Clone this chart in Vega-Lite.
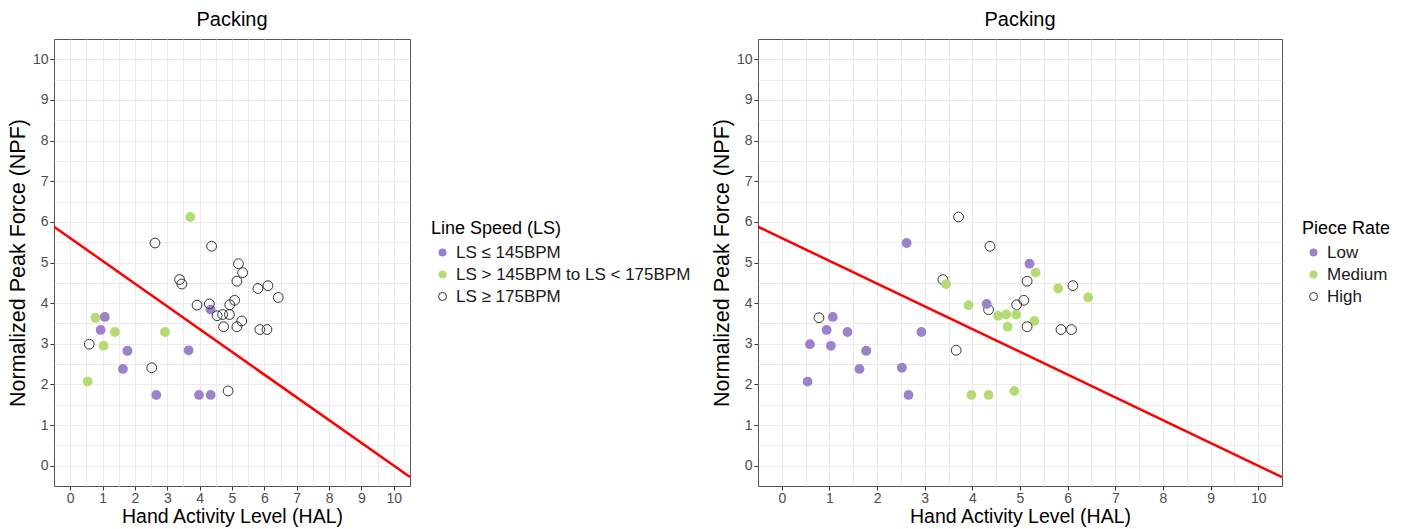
{
  "$schema": "https://vega.github.io/schema/vega-lite/v6.json",
  "padding": {"left": 6, "top": 9, "right": 5, "bottom": 2},
  "bounds": "flush",
  "spacing": 348,
  "config": {
    "font": "Liberation Sans",
    "view": {"stroke": "#555555", "strokeWidth": 1},
    "axis": {
      "domain": false,
      "tickColor": "#333333",
      "tickSize": 4,
      "labelColor": "#4D4D4D",
      "labelFontSize": 14,
      "titleColor": "#000000",
      "titleFontWeight": "normal",
      "gridColor": "#EBEBEB",
      "gridWidth": 1,
      "labelOverlap": false,
      "labelFlush": false
    },
    "axisX": {"labelPadding": 1, "titlePadding": 2, "titleFontSize": 19.5},
    "axisY": {"labelPadding": 2, "titlePadding": 3, "titleFontSize": 21.5},
    "title": {"fontSize": 20, "fontWeight": "normal", "color": "#000000", "offset": 9, "anchor": "middle"},
    "legend": {
      "titleFontSize": 18,
      "labelFontSize": 17,
      "titleFontWeight": "normal",
      "titleColor": "#000000",
      "labelColor": "#1A1A1A",
      "labelLimit": 0,
      "symbolSize": 64,
      "symbolStrokeWidth": 1,
      "rowPadding": 4,
      "titlePadding": 6,
      "labelOffset": 5,
      "symbolOffset": 3
    }
  },
  "datasets": {
    "pts": [
      {"HAL": 3.71, "NPF": 6.12, "LS": "LS > 145BPM to LS < 175BPM", "PR": "High"},
      {"HAL": 0.78, "NPF": 3.64, "LS": "LS > 145BPM to LS < 175BPM", "PR": "High"},
      {"HAL": 1.38, "NPF": 3.29, "LS": "LS > 145BPM to LS < 175BPM", "PR": "Low"},
      {"HAL": 2.93, "NPF": 3.29, "LS": "LS > 145BPM to LS < 175BPM", "PR": "Low"},
      {"HAL": 1.03, "NPF": 2.95, "LS": "LS > 145BPM to LS < 175BPM", "PR": "Low"},
      {"HAL": 1.77, "NPF": 2.82, "LS": "LS > 145BPM to LS < 175BPM", "PR": "Medium"},
      {"HAL": 0.54, "NPF": 2.07, "LS": "LS > 145BPM to LS < 175BPM", "PR": "Low"},
      {"HAL": 1.07, "NPF": 3.66, "LS": "LS ≤ 145BPM", "PR": "Low"},
      {"HAL": 0.94, "NPF": 3.34, "LS": "LS ≤ 145BPM", "PR": "Low"},
      {"HAL": 1.77, "NPF": 2.83, "LS": "LS ≤ 145BPM", "PR": "Low"},
      {"HAL": 1.63, "NPF": 2.38, "LS": "LS ≤ 145BPM", "PR": "Low"},
      {"HAL": 3.66, "NPF": 2.84, "LS": "LS ≤ 145BPM", "PR": "High"},
      {"HAL": 4.34, "NPF": 3.84, "LS": "LS ≤ 145BPM", "PR": "High"},
      {"HAL": 2.66, "NPF": 1.74, "LS": "LS ≤ 145BPM", "PR": "Low"},
      {"HAL": 3.98, "NPF": 1.74, "LS": "LS ≤ 145BPM", "PR": "Medium"},
      {"HAL": 4.34, "NPF": 1.74, "LS": "LS ≤ 145BPM", "PR": "Medium"},
      {"HAL": 2.62, "NPF": 5.48, "LS": "LS ≥ 175BPM", "PR": "Low"},
      {"HAL": 4.37, "NPF": 5.40, "LS": "LS ≥ 175BPM", "PR": "High"},
      {"HAL": 5.20, "NPF": 4.97, "LS": "LS ≥ 175BPM", "PR": "Low"},
      {"HAL": 5.33, "NPF": 4.75, "LS": "LS ≥ 175BPM", "PR": "Medium"},
      {"HAL": 5.15, "NPF": 4.54, "LS": "LS ≥ 175BPM", "PR": "High"},
      {"HAL": 3.38, "NPF": 4.58, "LS": "LS ≥ 175BPM", "PR": "High"},
      {"HAL": 3.45, "NPF": 4.47, "LS": "LS ≥ 175BPM", "PR": "Medium"},
      {"HAL": 5.80, "NPF": 4.36, "LS": "LS ≥ 175BPM", "PR": "Medium"},
      {"HAL": 6.11, "NPF": 4.43, "LS": "LS ≥ 175BPM", "PR": "High"},
      {"HAL": 6.43, "NPF": 4.14, "LS": "LS ≥ 175BPM", "PR": "Medium"},
      {"HAL": 3.92, "NPF": 3.95, "LS": "LS ≥ 175BPM", "PR": "Medium"},
      {"HAL": 4.30, "NPF": 3.98, "LS": "LS ≥ 175BPM", "PR": "Low"},
      {"HAL": 5.08, "NPF": 4.07, "LS": "LS ≥ 175BPM", "PR": "High"},
      {"HAL": 4.93, "NPF": 3.96, "LS": "LS ≥ 175BPM", "PR": "High"},
      {"HAL": 4.54, "NPF": 3.69, "LS": "LS ≥ 175BPM", "PR": "Medium"},
      {"HAL": 4.71, "NPF": 3.72, "LS": "LS ≥ 175BPM", "PR": "Medium"},
      {"HAL": 4.92, "NPF": 3.72, "LS": "LS ≥ 175BPM", "PR": "Medium"},
      {"HAL": 5.30, "NPF": 3.56, "LS": "LS ≥ 175BPM", "PR": "Medium"},
      {"HAL": 4.74, "NPF": 3.42, "LS": "LS ≥ 175BPM", "PR": "Medium"},
      {"HAL": 5.15, "NPF": 3.42, "LS": "LS ≥ 175BPM", "PR": "High"},
      {"HAL": 5.86, "NPF": 3.35, "LS": "LS ≥ 175BPM", "PR": "High"},
      {"HAL": 6.08, "NPF": 3.35, "LS": "LS ≥ 175BPM", "PR": "High"},
      {"HAL": 0.59, "NPF": 2.99, "LS": "LS ≥ 175BPM", "PR": "Low"},
      {"HAL": 2.52, "NPF": 2.41, "LS": "LS ≥ 175BPM", "PR": "Low"},
      {"HAL": 4.88, "NPF": 1.84, "LS": "LS ≥ 175BPM", "PR": "Medium"}
    ],
    "tlv": [
      {"HAL": -0.5, "NPF": 5.88},
      {"HAL": 10.5, "NPF": -0.28}
    ]
  },
  "hconcat": [
    {
      "title": "Packing",
      "width": 356,
      "height": 447,
      "encoding": {
        "x": {
          "field": "HAL", "type": "quantitative",
          "scale": {"domain": [-0.5, 10.5], "nice": false, "zero": false},
          "axis": {
            "title": "Hand Activity Level (HAL)",
            "values": [0, 0.5, 1, 1.5, 2, 2.5, 3, 3.5, 4, 4.5, 5, 5.5, 6, 6.5, 7, 7.5, 8, 8.5, 9, 9.5, 10],
            "labelExpr": "datum.value % 1 === 0 ? '' + datum.value : ''",
            "tickOpacity": {"condition": {"test": "datum.value % 1 !== 0", "value": 0}, "value": 1}
          }
        },
        "y": {
          "field": "NPF", "type": "quantitative",
          "scale": {"domain": [-0.5, 10.5], "nice": false, "zero": false},
          "axis": {
            "title": "Normalized Peak Force (NPF)",
            "values": [0, 0.5, 1, 1.5, 2, 2.5, 3, 3.5, 4, 4.5, 5, 5.5, 6, 6.5, 7, 7.5, 8, 8.5, 9, 9.5, 10],
            "labelExpr": "datum.value % 1 === 0 ? '' + datum.value : ''",
            "tickOpacity": {"condition": {"test": "datum.value % 1 !== 0", "value": 0}, "value": 1}
          }
        }
      },
      "layer": [
        {
          "data": {"name": "pts"},
          "mark": {"type": "point", "shape": "circle", "size": 96, "strokeWidth": 1, "opacity": 1},
          "encoding": {
            "fill": {
              "field": "LS", "type": "nominal",
              "scale": {"domain": ["LS ≤ 145BPM", "LS > 145BPM to LS < 175BPM", "LS ≥ 175BPM"], "range": ["#9C82CC", "#B5DB74", "transparent"]},
              "legend": {"title": "Line Speed (LS)", "orient": "none", "legendX": 377, "legendY": 181}
            },
            "stroke": {
              "field": "LS", "type": "nominal",
              "scale": {"domain": ["LS ≤ 145BPM", "LS > 145BPM to LS < 175BPM", "LS ≥ 175BPM"], "range": ["transparent", "transparent", "#333333"]},
              "legend": {"title": "Line Speed (LS)", "orient": "none", "legendX": 377, "legendY": 181}
            }
          }
        },
        {
          "data": {"name": "tlv"},
          "mark": {"type": "line", "color": "#FF0000", "strokeWidth": 2.5, "clip": true}
        }
      ]
    },
    {
      "title": "Packing",
      "width": 524,
      "height": 447,
      "encoding": {
        "x": {
          "field": "HAL", "type": "quantitative",
          "scale": {"domain": [-0.5, 10.5], "nice": false, "zero": false},
          "axis": {
            "title": "Hand Activity Level (HAL)",
            "values": [0, 0.5, 1, 1.5, 2, 2.5, 3, 3.5, 4, 4.5, 5, 5.5, 6, 6.5, 7, 7.5, 8, 8.5, 9, 9.5, 10],
            "labelExpr": "datum.value % 1 === 0 ? '' + datum.value : ''",
            "tickOpacity": {"condition": {"test": "datum.value % 1 !== 0", "value": 0}, "value": 1}
          }
        },
        "y": {
          "field": "NPF", "type": "quantitative",
          "scale": {"domain": [-0.5, 10.5], "nice": false, "zero": false},
          "axis": {
            "title": "Normalized Peak Force (NPF)",
            "values": [0, 0.5, 1, 1.5, 2, 2.5, 3, 3.5, 4, 4.5, 5, 5.5, 6, 6.5, 7, 7.5, 8, 8.5, 9, 9.5, 10],
            "labelExpr": "datum.value % 1 === 0 ? '' + datum.value : ''",
            "tickOpacity": {"condition": {"test": "datum.value % 1 !== 0", "value": 0}, "value": 1}
          }
        }
      },
      "layer": [
        {
          "data": {"name": "pts"},
          "mark": {"type": "point", "shape": "circle", "size": 96, "strokeWidth": 1, "opacity": 1},
          "encoding": {
            "fill": {
              "field": "PR", "type": "nominal",
              "scale": {"domain": ["Low", "Medium", "High"], "range": ["#9C82CC", "#B5DB74", "transparent"]},
              "legend": {"title": "Piece Rate", "orient": "none", "legendX": 544, "legendY": 181}
            },
            "stroke": {
              "field": "PR", "type": "nominal",
              "scale": {"domain": ["Low", "Medium", "High"], "range": ["transparent", "transparent", "#333333"]},
              "legend": {"title": "Piece Rate", "orient": "none", "legendX": 544, "legendY": 181}
            }
          }
        },
        {
          "data": {"name": "tlv"},
          "mark": {"type": "line", "color": "#FF0000", "strokeWidth": 2.5, "clip": true}
        }
      ]
    }
  ],
  "resolve": {
    "scale": {"fill": "independent", "stroke": "independent"},
    "legend": {"fill": "independent", "stroke": "independent"}
  }
}
